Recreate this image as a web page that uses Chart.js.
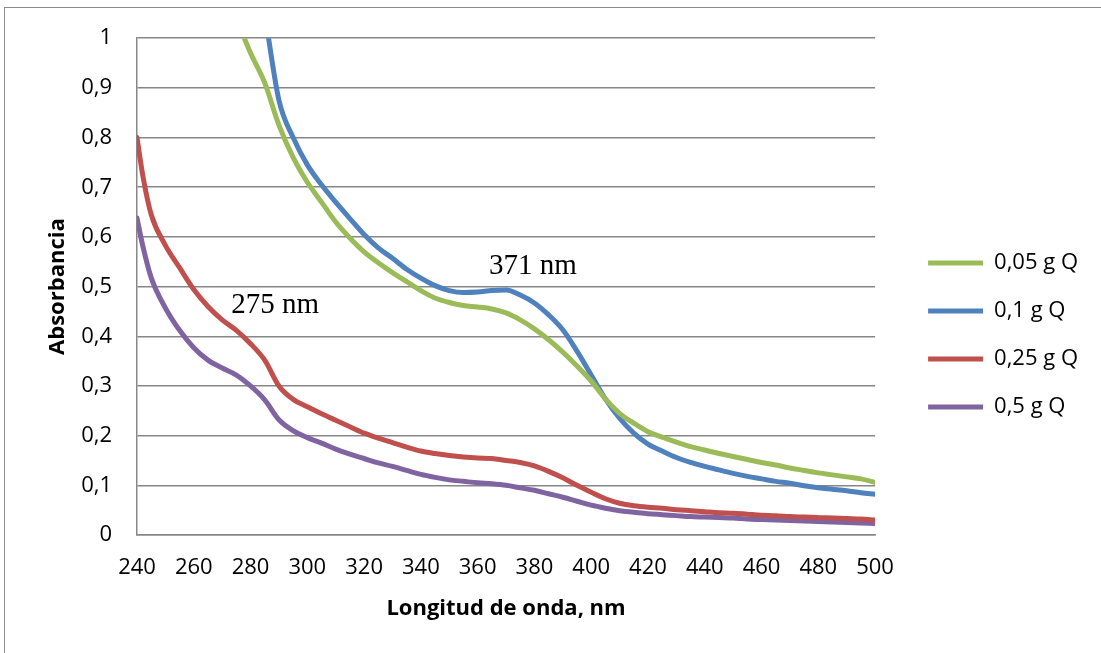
<!DOCTYPE html>
<html>
<head>
<meta charset="utf-8">
<script src="https://cdn.jsdelivr.net/npm/chart.js@4.4.1/dist/chart.umd.min.js"></script>
<style>
  html, body { margin: 0; padding: 0; background: #fff; }
</style>
</head>
<body>
<canvas id="absChart" width="1101" height="653"></canvas>
<script>
// wavelength grid (nm)
const wavelengths = [240, 242, 245, 250, 255, 260, 265, 270, 275, 280, 285, 290, 295, 300, 305, 310, 315, 320, 325, 330,
  335, 340, 345, 350, 355, 360, 365, 370, 375, 380, 385, 390, 395, 400, 405, 410, 415, 420, 425, 430,
  435, 440, 445, 450, 455, 460, 465, 470, 475, 480, 485, 490, 495, 500];

// absorbance
const q005 = [null, null, null, null, null, null, null, null, 1.04, 0.97, 0.91, 0.825, 0.76, 0.71, 0.67, 0.63, 0.598, 0.57, 0.548, 0.528,
  0.51, 0.492, 0.477, 0.468, 0.462, 0.459, 0.455, 0.447, 0.433, 0.415, 0.393, 0.368, 0.34, 0.31, 0.274, 0.245, 0.225, 0.208, 0.197, 0.187,
  0.178, 0.171, 0.164, 0.158, 0.152, 0.146, 0.141, 0.135, 0.13, 0.125, 0.121, 0.117, 0.113, 0.106];
const q01 = [null, null, null, null, null, null, null, null, null, null, 1.05, 0.875, 0.80, 0.745, 0.705, 0.67, 0.637, 0.605, 0.578, 0.557,
  0.535, 0.517, 0.502, 0.492, 0.488, 0.489, 0.492, 0.493, 0.483, 0.467, 0.443, 0.413, 0.37, 0.322, 0.274, 0.235, 0.205, 0.183, 0.169, 0.156,
  0.146, 0.138, 0.131, 0.124, 0.118, 0.113, 0.108, 0.104, 0.099, 0.095, 0.092, 0.089, 0.085, 0.082];
const q025 = [0.80, 0.725, 0.645, 0.583, 0.538, 0.494, 0.46, 0.433, 0.412, 0.385, 0.352, 0.30, 0.273, 0.258, 0.244, 0.231, 0.218, 0.205, 0.195, 0.186,
  0.177, 0.169, 0.164, 0.16, 0.157, 0.155, 0.154, 0.15, 0.146, 0.139, 0.128, 0.115, 0.1, 0.086, 0.073, 0.064, 0.059, 0.056, 0.054, 0.051,
  0.049, 0.047, 0.045, 0.044, 0.042, 0.040, 0.039, 0.037, 0.036, 0.035, 0.034, 0.033, 0.032, 0.030];
const q05 = [0.638, 0.583, 0.518, 0.457, 0.412, 0.377, 0.352, 0.336, 0.322, 0.30, 0.272, 0.232, 0.21, 0.196, 0.185, 0.173, 0.163, 0.154, 0.145, 0.138,
  0.13, 0.122, 0.116, 0.111, 0.108, 0.105, 0.103, 0.1, 0.095, 0.09, 0.083, 0.076, 0.068, 0.06, 0.054, 0.049, 0.046, 0.043, 0.041, 0.039,
  0.037, 0.036, 0.035, 0.034, 0.032, 0.031, 0.030, 0.029, 0.028, 0.027, 0.026, 0.025, 0.024, 0.023];

const seriesNames = ['0,05 g Q', '0,1 g Q', '0,25 g Q', '0,5 g Q'];
const seriesColors = ['#9bbb59', '#4f81bd', '#c0504d', '#8064a2'];
const seriesValues = [q005, q01, q025, q05];

Chart.defaults.font.family = '"Open Sans", sans-serif';
Chart.defaults.font.size = 22;
Chart.defaults.color = '#000';

const GRID = '#878787';

// gray frame around the whole picture
const framePlugin = {
  id: 'frame',
  beforeDraw(chart) {
    const c = chart.ctx;
    c.save();
    c.fillStyle = '#fff';
    c.fillRect(0, 0, chart.width, chart.height);
    c.strokeStyle = '#8c8c8c';
    c.lineWidth = 1;
    c.strokeRect(4.5, 7.5, chart.width + 20, chart.height + 20);
    c.restore();
  }
};

// nudge the legend to where Excel put it
const legendShift = {
  id: 'legendShift',
  afterLayout(chart) {
    const lg = chart.legend;
    lg.left += 27; lg.right += 27;
    lg.top -= 5; lg.bottom -= 5;
  }
};

// peak annotations
const peakText = {
  id: 'peakText',
  afterDatasetsDraw(chart) {
    const { ctx, scales: { x, y } } = chart;
    ctx.save();
    ctx.font = '29px "Liberation Serif", serif';
    ctx.fillStyle = '#000';
    ctx.textBaseline = 'alphabetic';
    [['275 nm', 273.2, 0.447], ['371 nm', 364, 0.5245]].forEach(([t, nm, a]) => {
      ctx.fillText(t, x.getPixelForValue(nm), y.getPixelForValue(a));
    });
    ctx.restore();
  }
};

new Chart(document.getElementById('absChart'), {
  type: 'line',
  data: {
    datasets: seriesValues.map((vals, i) => ({
      label: seriesNames[i],
      data: wavelengths.map((w, j) => ({ x: w, y: vals[j] })),
      borderColor: seriesColors[i],
      backgroundColor: seriesColors[i],
      borderWidth: 5,
      borderCapStyle: 'round',
      pointRadius: 0,
      cubicInterpolationMode: 'monotone',
      clip: 0
    }))
  },
  options: {
    responsive: false,
    animation: false,
    layout: { padding: { top: 37, left: 10, right: 40, bottom: 10 } },
    plugins: {
      legend: {
        position: 'right',
        labels: {
          usePointStyle: true,
          pointStyle: 'line',
          pointStyleWidth: 55,
          padding: 26,
          color: '#000',
          font: { size: 22 }
        }
      },
      tooltip: { enabled: false }
    },
    scales: {
      x: {
        type: 'linear',
        min: 240,
        max: 500,
        ticks: { stepSize: 20, padding: 20, maxRotation: 0 },
        grid: { display: false, drawTicks: false },
        border: { display: true, color: GRID, width: 1.5 },
        title: {
          display: true,
          text: 'Longitud de onda, nm',
          font: { size: 22, weight: 'bold' },
          padding: { top: 0, bottom: 21 }
        },
        afterFit(scale) { scale.height = 108; }
      },
      y: {
        min: 0,
        max: 1,
        ticks: {
          stepSize: 0.1,
          padding: 25,
          callback: v => (v === 0 || v === 1) ? String(v) : v.toFixed(1).replace('.', ',')
        },
        grid: { color: GRID, lineWidth: 1.5, drawTicks: false },
        border: { display: true, color: GRID, width: 1.5 },
        title: {
          display: true,
          text: 'Absorbancia',
          font: { size: 22, weight: 'bold' },
          padding: { top: 35, bottom: 0 }
        },
        afterFit(scale) { scale.width = 127; }
      }
    }
  },
  plugins: [framePlugin, legendShift, peakText]
});
</script>
</body>
</html>
